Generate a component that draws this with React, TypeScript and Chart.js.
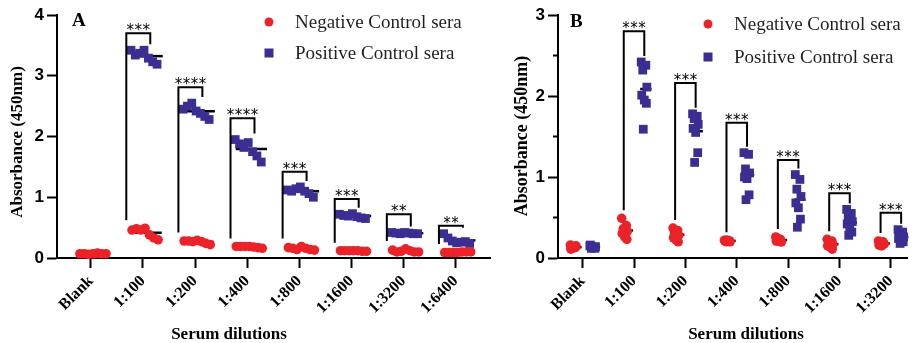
import React, { useEffect, useRef } from 'react';
import { Chart, registerables } from 'chart.js';

Chart.register(...registerables);

const RED = '#EC2229';
const BLUE = '#3B2E92';
const NEG_LABEL = 'Negative Control sera';
const POS_LABEL = 'Positive Control sera';
const Y_TITLE = 'Absorbance (450nm)';
const X_TITLE = 'Serum dilutions';

// ---------- Panel A data ----------
const categoriesA = ['Blank', '1:100', '1:200', '1:400', '1:800', '1:1600', '1:3200', '1:6400'];
const negativeA = [
  [0.07, 0.07, 0.06, 0.07, 0.08, 0.07, 0.07],
  [0.46, 0.48, 0.46, 0.49, 0.38, 0.33, 0.30],
  [0.28, 0.28, 0.27, 0.29, 0.27, 0.24, 0.22],
  [0.19, 0.19, 0.19, 0.19, 0.18, 0.17, 0.16],
  [0.17, 0.16, 0.14, 0.19, 0.16, 0.14, 0.13],
  [0.12, 0.12, 0.12, 0.12, 0.12, 0.11, 0.11],
  [0.13, 0.10, 0.11, 0.15, 0.12, 0.10, 0.10],
  [0.09, 0.09, 0.09, 0.09, 0.10, 0.10, 0.10],
];
const positiveA = [
  [],
  [3.42, 3.34, 3.37, 3.42, 3.29, 3.23, 3.19],
  [2.45, 2.50, 2.55, 2.42, 2.38, 2.33, 2.28],
  [1.95, 1.88, 1.82, 1.90, 1.75, 1.68, 1.58],
  [1.12, 1.10, 1.14, 1.17, 1.10, 1.06, 1.00],
  [0.72, 0.70, 0.69, 0.73, 0.68, 0.66, 0.65],
  [0.42, 0.41, 0.40, 0.42, 0.41, 0.40, 0.40],
  [0.40, 0.33, 0.28, 0.25, 0.26, 0.27, 0.24],
];
const bracketTopA = [null, 3.70, 2.81, 2.30, 1.42, 0.97, 0.72, 0.53];
const starsA = ['', '***', '****', '****', '***', '***', '**', '**'];
const yTicksA = [0, 1, 2, 3, 4];

// ---------- Panel B data ----------
const categoriesB = ['Blank', '1:100', '1:200', '1:400', '1:800', '1:1600', '1:3200'];
const negativeB = [
  [0.16, 0.13, 0.12, 0.15, 0.11, 0.14, 0.13, 0.12],
  [0.49, 0.40, 0.36, 0.33, 0.30, 0.26, 0.23, 0.35],
  [0.37, 0.34, 0.31, 0.28, 0.25, 0.22, 0.20, 0.33],
  [0.22, 0.21, 0.22, 0.20, 0.21, 0.22, 0.21, 0.20],
  [0.26, 0.23, 0.21, 0.20, 0.21, 0.22, 0.20, 0.24],
  [0.23, 0.21, 0.19, 0.17, 0.15, 0.13, 0.11, 0.17],
  [0.21, 0.20, 0.18, 0.17, 0.16, 0.15, 0.18, 0.19],
];
const positiveB = [
  [0.15, 0.13, 0.12, 0.14, 0.16, 0.13, 0.12, 0.14],
  [2.42, 2.38, 2.32, 2.11, 2.01, 1.95, 1.91, 1.59],
  [1.78, 1.75, 1.72, 1.65, 1.60, 1.55, 1.30, 1.18],
  [1.30, 1.28, 1.10, 1.05, 1.00, 0.98, 0.78, 0.72],
  [1.03, 0.97, 0.85, 0.76, 0.68, 0.62, 0.48, 0.38],
  [0.60, 0.55, 0.50, 0.45, 0.42, 0.38, 0.32, 0.28],
  [0.35, 0.32, 0.29, 0.26, 0.24, 0.22, 0.20, 0.18],
];
const bracketTopB = [null, 2.80, 2.16, 1.67, 1.21, 0.80, 0.56];
const starsB = ['', '***', '***', '***', '***', '***', '***'];
const yTicksB = [0, 0.5, 1, 1.5, 2, 2.5, 3];

const STACK_JITTER = [-0.05, 0.04, -0.02, 0.06, -0.04, 0.01, 0.05, -0.01];

type Panel = {
  letter: string;
  categories: string[];
  neg: number[][];
  pos: number[][];
  tops: (number | null)[];
  stars: string[];
  yTicks: number[];
  xMin: number;
  xMax: number;
  yMax: number;
  canvasLeft: number;
  canvasWidth: number;
  yAxisWidth: number;
  padRight: number;
  layout: 'row' | 'stack';
  negCenter: number;
  posCenter: number;
  meanNeg: [number, number];
  meanPos: [number, number];
  brL: number;
  brR: number;
  letterX: number;
  letterY: number;
  legendX: number;
  legendY1: number;
  legendY2: number;
  yTitleX: number;
  yTitleY: number;
  yTitleSize: number;
  xTitleX: number;
  xTitleY: number;
};

const H = 343;
const PLOT_TOP = 15;
const PLOT_BOTTOM = 258;

function offsetFor(p: Panel, j: number, n: number, center: number) {
  if (p.layout === 'row') return center - 0.25 + (0.5 * j) / Math.max(1, n - 1);
  return center + STACK_JITTER[j % STACK_JITTER.length];
}

function toPoints(p: Panel, groups: number[][], center: number) {
  return groups.flatMap((vals, i) => vals.map((v, j) => ({ x: i + offsetFor(p, j, vals.length, center), y: v })));
}

const mean = (a: number[]) => a.reduce((s, v) => s + v, 0) / a.length;

const panelA: Panel = {
  letter: 'A', categories: categoriesA, neg: negativeA, pos: positiveA, tops: bracketTopA, stars: starsA,
  yTicks: yTicksA, xMin: -0.65, xMax: 7.66, yMax: 4, canvasLeft: 0, canvasWidth: 500, yAxisWidth: 57, padRight: 10,
  layout: 'row', negCenter: 0.04, posCenter: 0.02, meanNeg: [-0.25, 0.36], meanPos: [-0.22, 0.38], brL: -0.32, brR: 0.14,
  letterX: 72, letterY: 26, legendX: 269, legendY1: 22, legendY2: 53, yTitleX: 18, yTitleY: 142, yTitleSize: 17,
  xTitleX: 229, xTitleY: 339,
};

const panelB: Panel = {
  letter: 'B', categories: categoriesB, neg: negativeB, pos: positiveB, tops: bracketTopB, stars: starsB,
  yTicks: yTicksB, xMin: -0.48, xMax: 6.33, yMax: 3, canvasLeft: 500, canvasWidth: 414, yAxisWidth: 58, padRight: 0,
  layout: 'stack', negCenter: -0.19, posCenter: 0.19, meanNeg: [-0.24, -0.02], meanPos: [0.12, 0.34], brL: -0.2, brR: 0.2,
  letterX: 70, letterY: 27, legendX: 208, legendY1: 24, legendY2: 57, yTitleX: 22, yTitleY: 136, yTitleSize: 18,
  xTitleX: 246, xTitleY: 339,
};

function makeOverlay(p: Panel) {
  return {
    id: 'overlay' + p.letter,
    beforeDatasetsDraw(chart: any) {
      const ctx = chart.ctx;
      const xs = chart.scales.x;
      const ys = chart.scales.y;
      ctx.save();
      ctx.strokeStyle = '#000';
      ctx.lineWidth = 2.5;
      const drawMean = (groups: number[][], range: [number, number]) => {
        groups.forEach((vals, i) => {
          if (!vals.length) return;
          const y = ys.getPixelForValue(mean(vals));
          ctx.beginPath();
          ctx.moveTo(xs.getPixelForValue(i + range[0]), y);
          ctx.lineTo(xs.getPixelForValue(i + range[1]), y);
          ctx.stroke();
        });
      };
      drawMean(p.neg, p.meanNeg);
      drawMean(p.pos, p.meanPos);
      ctx.restore();
    },
    afterDatasetsDraw(chart: any) {
      const ctx = chart.ctx;
      const xs = chart.scales.x;
      const ys = chart.scales.y;
      ctx.save();
      ctx.strokeStyle = '#000';
      ctx.fillStyle = '#000';
      ctx.lineWidth = 2;
      p.tops.forEach((top, i) => {
        if (top == null) return;
        const xl = xs.getPixelForValue(i + p.brL);
        const xr = xs.getPixelForValue(i + p.brR);
        const yt = ys.getPixelForValue(top);
        const ylb = ys.getPixelForValue(Math.max(...p.neg[i])) - 8;
        const yrb = ys.getPixelForValue(Math.max(...p.pos[i])) - 6;
        ctx.beginPath();
        ctx.moveTo(xl, ylb);
        ctx.lineTo(xl, yt);
        ctx.lineTo(xr, yt);
        ctx.lineTo(xr, yrb);
        ctx.stroke();
        const s = p.stars[i];
        ctx.font = '15px "DejaVu Sans"';
        ctx.textAlign = 'center';
        ctx.textBaseline = 'alphabetic';
        const cx = (xl + xr) / 2;
        for (let k = 0; k < s.length; k++) {
          ctx.fillText(s[k], cx + (k - (s.length - 1) / 2) * 8, yt + 2);
        }
      });
      ctx.restore();
    },
    afterDraw(chart: any) {
      const ctx = chart.ctx;
      const ys = chart.scales.y;
      const left = chart.chartArea.left;
      ctx.save();
      ctx.strokeStyle = '#000';
      ctx.lineWidth = 2;
      p.yTicks.forEach((v) => {
        if (Number.isInteger(v)) return;
        const y = ys.getPixelForValue(v);
        ctx.beginPath();
        ctx.moveTo(left - 5, y);
        ctx.lineTo(left, y);
        ctx.stroke();
      });
      ctx.fillStyle = '#000';
      ctx.font = 'bold 19px "Liberation Serif"';
      ctx.textAlign = 'left';
      ctx.textBaseline = 'alphabetic';
      ctx.fillText(p.letter, p.letterX, p.letterY);
      ctx.fillStyle = RED;
      ctx.beginPath();
      ctx.arc(p.legendX, p.legendY1, 4.5, 0, Math.PI * 2);
      ctx.fill();
      ctx.fillStyle = BLUE;
      ctx.fillRect(p.legendX - 4.5, p.legendY2 - 4.5, 9, 9);
      ctx.fillStyle = '#231F20';
      ctx.font = '19px "Liberation Serif"';
      ctx.textBaseline = 'middle';
      ctx.fillText(NEG_LABEL, p.legendX + 26, p.legendY1 + 1);
      ctx.fillText(POS_LABEL, p.legendX + 26, p.legendY2 + 1);
      ctx.fillStyle = '#000';
      ctx.font = 'bold 17px "Liberation Serif"';
      ctx.textAlign = 'center';
      ctx.textBaseline = 'alphabetic';
      ctx.fillText(X_TITLE, p.xTitleX, p.xTitleY);
      ctx.save();
      ctx.translate(p.yTitleX, p.yTitleY);
      ctx.rotate(-Math.PI / 2);
      ctx.font = `bold ${p.yTitleSize}px "Liberation Serif"`;
      ctx.textBaseline = 'middle';
      ctx.fillText(Y_TITLE, 0, 0);
      ctx.restore();
      ctx.restore();
    },
  };
}

function PanelChart({ p }: { p: Panel }) {
  const ref = useRef<HTMLCanvasElement | null>(null);
  useEffect(() => {
    if (!ref.current) return;
    const chart = new Chart(ref.current, {
      type: 'scatter',
      data: {
        datasets: [
          {
            label: NEG_LABEL,
            data: toPoints(p, p.neg, p.negCenter),
            backgroundColor: RED,
            borderWidth: 0,
            pointStyle: 'circle',
            pointRadius: 4.8,
            clip: false,
          } as any,
          {
            label: POS_LABEL,
            data: toPoints(p, p.pos, p.posCenter),
            backgroundColor: BLUE,
            borderWidth: 0,
            pointStyle: 'rect',
            pointRadius: 6.2,
            clip: false,
          } as any,
        ],
      },
      options: {
        animation: false,
        responsive: false,
        devicePixelRatio: 1,
        layout: { padding: { top: PLOT_TOP, right: p.padRight, left: 0, bottom: 0 } },
        plugins: { legend: { display: false }, tooltip: { enabled: false } },
        scales: {
          x: {
            type: 'linear',
            min: p.xMin,
            max: p.xMax,
            afterBuildTicks: (s: any) => {
              s.ticks = p.categories.map((_, i) => ({ value: i }));
            },
            afterFit: (s: any) => {
              s.height = H - PLOT_BOTTOM;
            },
            ticks: {
              autoSkip: false,
              maxRotation: 45,
              minRotation: 45,
              padding: 4,
              color: '#000',
              font: { family: 'Liberation Serif', size: 16, weight: 'bold' },
              callback: (v: any) => p.categories[v] ?? '',
            },
            grid: { drawOnChartArea: false, drawTicks: true, tickLength: 10, tickWidth: 2, tickColor: '#000' },
            border: { display: true, color: '#000', width: 2 },
          },
          y: {
            type: 'linear',
            min: 0,
            max: p.yMax,
            afterBuildTicks: (s: any) => {
              s.ticks = p.yTicks.map((v) => ({ value: v }));
            },
            afterFit: (s: any) => {
              s.width = p.yAxisWidth;
            },
            ticks: {
              padding: 3,
              color: '#000',
              font: { family: 'Liberation Sans', size: 17, weight: 'bold' },
              callback: (v: any) => (Number.isInteger(v) ? String(v) : ''),
            },
            grid: {
              drawOnChartArea: false,
              drawTicks: true,
              tickLength: 10,
              tickWidth: 2,
              tickColor: (c: any) => (c.tick && Number.isInteger(c.tick.value) ? '#000' : 'rgba(0,0,0,0)'),
            },
            border: { display: true, color: '#000', width: 2 },
          },
        },
      } as any,
      plugins: [makeOverlay(p)],
    });
    return () => chart.destroy();
  }, [p]);
  return (
    <canvas
      ref={ref}
      width={p.canvasWidth}
      height={H}
      style={{ position: 'absolute', left: p.canvasLeft, top: 0, width: p.canvasWidth, height: H }}
    />
  );
}

export default function App() {
  return (
    <div style={{ position: 'absolute', left: 0, top: 0, width: 914, height: H, background: '#fff', overflow: 'hidden' }}>
      <PanelChart p={panelA} />
      <PanelChart p={panelB} />
    </div>
  );
}
